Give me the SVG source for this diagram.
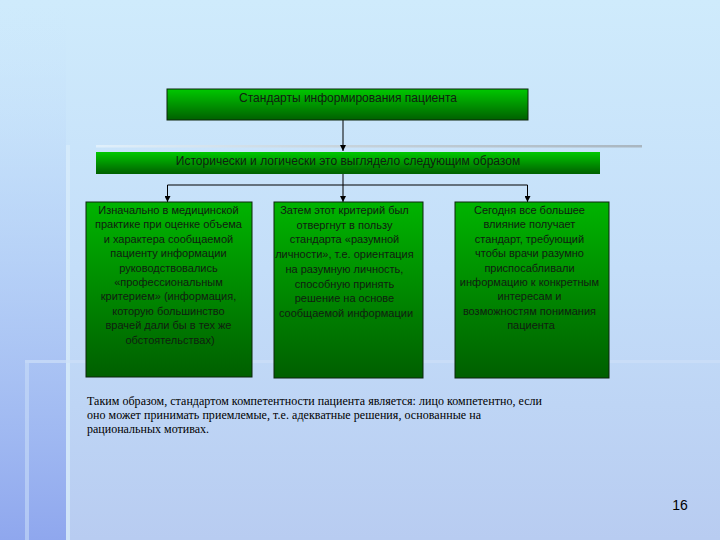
<svg xmlns="http://www.w3.org/2000/svg" width="720" height="540" viewBox="0 0 720 540">
<defs>
  <linearGradient id="bg" x1="0" y1="0" x2="0" y2="1">
    <stop offset="0" stop-color="#cfebfc"/>
    <stop offset="0.5" stop-color="#c4def9"/>
    <stop offset="1" stop-color="#b8ccf1"/>
  </linearGradient>
  <linearGradient id="leftband" x1="0" y1="0" x2="0" y2="1">
    <stop offset="0" stop-color="#cde9fc" stop-opacity="0"/>
    <stop offset="0.35" stop-color="#b8d4f8" stop-opacity="0.6"/>
    <stop offset="1" stop-color="#8fa7ee"/>
  </linearGradient>
  <linearGradient id="green" x1="0" y1="0" x2="0" y2="1">
    <stop offset="0" stop-color="#00c800"/>
    <stop offset="1" stop-color="#006000"/>
  </linearGradient>
  <linearGradient id="greenTall" x1="0" y1="0" x2="0" y2="1">
    <stop offset="0" stop-color="#00b400"/>
    <stop offset="1" stop-color="#005f00"/>
  </linearGradient>
  <linearGradient id="grayline" x1="0" y1="0" x2="1" y2="0">
    <stop offset="0" stop-color="#e0f0fc"/>
    <stop offset="0.45" stop-color="#c8d4dc"/>
    <stop offset="1" stop-color="#a9b6c0"/>
  </linearGradient>
  <marker id="arr" viewBox="0 0 10 10" refX="10" refY="5" markerWidth="6" markerHeight="6" orient="auto" markerUnits="userSpaceOnUse">
    <path d="M0,0 L10,5 L0,10 z" fill="#000"/>
  </marker>
  <style>
    .box { stroke: #0d260d; stroke-width: 1; }
    .t { font-family: "Liberation Sans", Arial, sans-serif; fill: #102010; text-anchor: middle; }
    .bt { font-size: 11px; }
    .ht { font-size: 12px; }
    .conn { stroke: #000; stroke-width: 1; fill: none; }
    .note { font-family: "Liberation Serif", "Times New Roman", serif; font-size: 12px; fill: #000; }
  </style>
</defs>

<!-- background -->
<rect x="0" y="0" width="720" height="540" fill="url(#bg)"/>
<rect x="0" y="0" width="66" height="540" fill="url(#leftband)"/>
<rect x="66" y="145" width="4" height="395" fill="#d8ecfb" opacity="0.7"/>
<rect x="25" y="360" width="695" height="3" fill="#cde0f8" opacity="0.7"/>
<rect x="25" y="363" width="4" height="177" fill="#c8dcf8" opacity="0.6"/>
<rect x="96" y="145" width="546" height="2.5" fill="url(#grayline)"/>

<!-- connectors -->
<g id="connectors">
  <line class="conn" x1="343" y1="120" x2="343" y2="151" marker-end="url(#arr)"/>
  <polyline class="conn" points="343,174 343,185"/>
  <line class="conn" x1="167.5" y1="185" x2="527.5" y2="185"/>
  <line class="conn" x1="167.5" y1="185" x2="167.5" y2="202" marker-end="url(#arr)"/>
  <line class="conn" x1="343" y1="185" x2="343" y2="202" marker-end="url(#arr)"/>
  <line class="conn" x1="527.5" y1="185" x2="527.5" y2="202" marker-end="url(#arr)"/>
</g>

<g id="node-title">
  <rect class="box" x="167" y="89" width="361" height="31" fill="url(#green)"/>
  <text class="t ht" x="348" y="102">Стандарты информирования пациента</text>
</g>

<g id="node-history">
  <rect x="96" y="152" width="504" height="22" fill="url(#green)"/>
  <text class="t ht" x="348" y="165">Исторически и логически это выглядело следующим образом</text>
</g>

<g id="node-initial">
  <rect class="box" x="86" y="202" width="166" height="175" fill="url(#greenTall)"/>
  <text class="t bt">
    <tspan x="170" y="214">Изначально в медицинской</tspan>
    <tspan x="170" y="228.4">практике при оценке объема</tspan>
    <tspan x="170" y="242.8">и характера сообщаемой</tspan>
    <tspan x="170" y="257.2">пациенту информации</tspan>
    <tspan x="170" y="271.6">руководствовались</tspan>
    <tspan x="170" y="286">«профессиональным</tspan>
    <tspan x="170" y="300.4">критерием» (информация,</tspan>
    <tspan x="170" y="314.8">которую большинство</tspan>
    <tspan x="170" y="329.2">врачей дали бы в тех же</tspan>
    <tspan x="170" y="343.6">обстоятельствах)</tspan>
  </text>
</g>

<g id="node-reasonable">
  <rect class="box" x="274" y="202" width="149" height="176" fill="url(#greenTall)"/>
  <text class="t bt">
    <tspan x="346" y="214">Затем этот критерий был</tspan>
    <tspan x="346" y="228.7">отвергнут в пользу</tspan>
    <tspan x="346" y="243.4">стандарта «разумной</tspan>
    <tspan x="346" y="258.1">личности», т.е. ориентация</tspan>
    <tspan x="346" y="272.8">на разумную личность,</tspan>
    <tspan x="346" y="287.5">способную принять</tspan>
    <tspan x="346" y="302.2">решение на основе</tspan>
    <tspan x="346" y="316.9">сообщаемой информации</tspan>
  </text>
</g>

<g id="node-today">
  <rect class="box" x="455" y="202" width="154" height="176" fill="url(#greenTall)"/>
  <text class="t bt">
    <tspan x="531" y="214">Сегодня все большее</tspan>
    <tspan x="531" y="228.4">влияние получает</tspan>
    <tspan x="531" y="242.8">стандарт, требующий</tspan>
    <tspan x="531" y="257.2">чтобы врачи разумно</tspan>
    <tspan x="531" y="271.6">приспосабливали</tspan>
    <tspan x="531" y="286">информацию к конкретным</tspan>
    <tspan x="531" y="300.4">интересам и</tspan>
    <tspan x="531" y="314.8">возможностям понимания</tspan>
    <tspan x="531" y="329.2">пациента</tspan>
  </text>
</g>

<g id="conclusion">
  <text class="note">
    <tspan x="87" y="405" textLength="455" lengthAdjust="spacing">Таким образом, стандартом компетентности пациента является: лицо компетентно, если</tspan>
    <tspan x="87" y="419" textLength="394" lengthAdjust="spacing">оно может принимать приемлемые, т.е. адекватные решения, основанные на</tspan>
    <tspan x="87" y="433" textLength="122" lengthAdjust="spacing">рациональных мотивах.</tspan>
  </text>
</g>

<text x="680" y="510" font-family="Liberation Sans, Arial, sans-serif" font-size="14" fill="#000" text-anchor="middle">16</text>
</svg>
